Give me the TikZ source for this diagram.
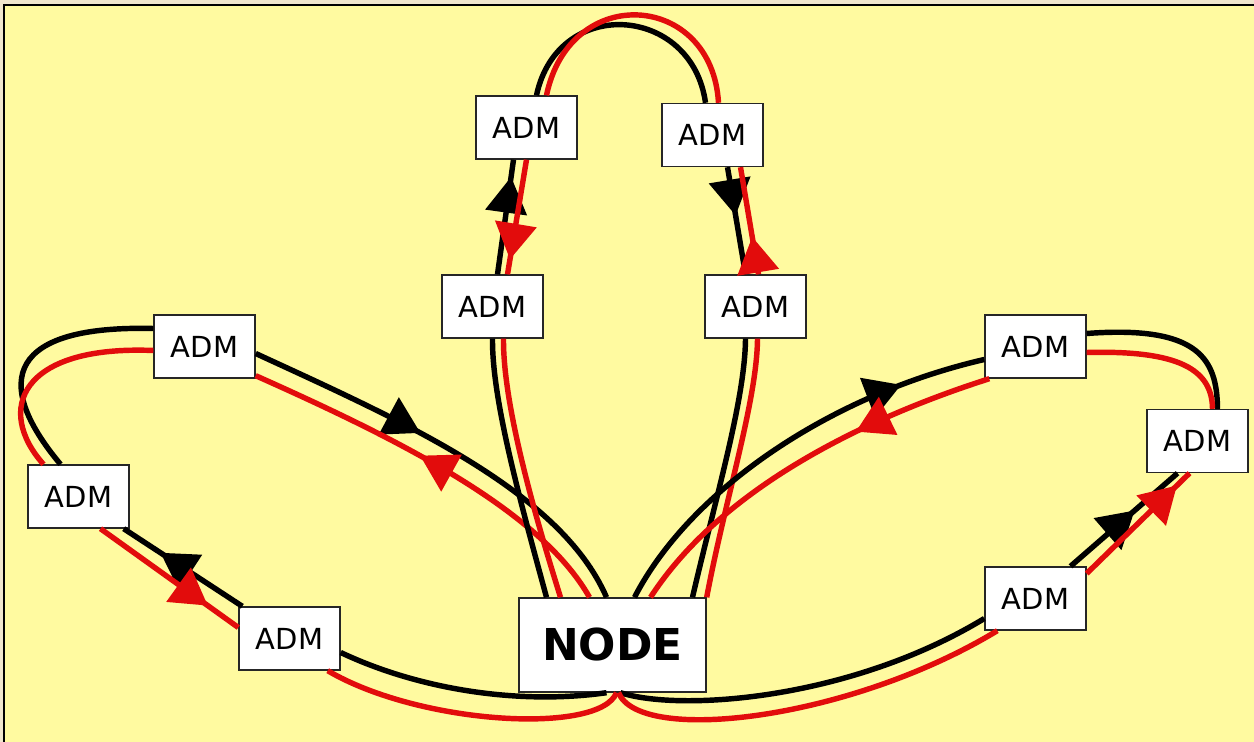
\documentclass[tikz,border=0pt]{standalone}
\usepackage{fontspec}
\setmainfont{DejaVu Sans}
\usepackage{tikz}
\usetikzlibrary{calc, arrows.meta, decorations.markings}

\definecolor{bgyel}{RGB}{255,250,160}
\definecolor{pale}{RGB}{240,230,205}
\definecolor{ringred}{RGB}{226,12,12}

\tikzset{
	adm/.style={draw=black!85, line width=0.8pt, fill=white, inner sep=0pt,
		minimum width=2.02cm, minimum height=1.26cm, font=\fontsize{16.5}{19}\selectfont},
	hub/.style={draw=black!85, line width=0.8pt, fill=white, inner sep=0pt,
		minimum width=3.74cm, minimum height=1.88cm, font=\fontsize{25}{30}\selectfont\bfseries},
	blk/.style={draw=black, line width=3.1pt},
	rd/.style={draw=ringred, line width=3.1pt},
	arr/.style={postaction={decorate}, decoration={markings,
		mark=at position #1 with {\arrow{Triangle[length=0.72cm,width=0.82cm]}}}}
}

\begin{document}
\begin{tikzpicture}[x=0.02cm, y=-0.02cm]
	\useasboundingbox (0,0) rectangle (1254,742);
	% background and frame
	\fill[pale] (0,0) rectangle (1254,742);
	\fill[bgyel] (4,5) rectangle (1254,742);
	\draw[line width=1.6pt] (4,742) -- (4,5) -- (1254,5);
	
	% boxes
	\node[hub] (nd) at (612.5,645) {NODE};
	\node[adm] (a1) at (204.5,346.5) {ADM};   % left ring
	\node[adm] (a2) at (78.5,496.5) {ADM};
	\node[adm] (a3) at (289.5,638.5) {ADM};
	\node[adm] (b1) at (492.5,306.5) {ADM};   % top ring
	\node[adm] (b2) at (526.5,127.5) {ADM};
	\node[adm] (b3) at (712.5,135) {ADM};
	\node[adm] (b4) at (755.5,306.5) {ADM};
	\node[adm] (c1) at (1035.5,346.5) {ADM};  % right ring
	\node[adm] (c2) at (1197.5,441) {ADM};
	\node[adm] (c3) at (1035.5,598.5) {ADM};
	
	% left ring, black
	\draw[blk, arr=0.42] ($(a1.east)+(0,7)$) .. controls (400,420) and (560,490) .. ($(nd.north)+(-6,0)$);
	\draw[blk, arr=0.69] ($(a3.north west)+(4,0)$) -- ($(a2.south east)+(-6,0)$);
	\draw[blk] ($(a2.north)+(-18,0)$) .. controls (-10,380) and (10,325) .. ($(a1.west)+(0,-18)$);
	\draw[blk] ($(nd.south)+(-6,0)$) .. controls (520,705) and (420,690) .. ($(a3.east)+(0,14)$);
	% left ring, red
	\draw[rd, arr=0.55] ($(nd.north)+(-23,0)$) .. controls (540,510) and (400,440) .. ($(a1.south east)+(0,-3)$);
	\draw[rd] ($(a1.west)+(0,4)$) .. controls (20,345) and (-5,410) .. ($(a2.north)+(-35,0)$);
	\draw[rd, arr=0.78] ($(a2.south)+(22,0)$) -- ($(a3.west)+(0,-11)$);
	\draw[rd] ($(a3.south east)+(-13,0)$) .. controls (420,725) and (600,735) .. ($(nd.south)+(4,0)$);
	
	% top ring, black
	\draw[blk] ($(nd.north)+(-66,0)$) .. controls (520,500) and (492,400) .. (b1.south);
	\draw[blk, arr=0.85] ($(b1.north)+(5,0)$) -- ($(b2.south)+(-13,0)$);
	\draw[blk] ($(b2.north)+(10,0)$) .. controls (558,-5) and (692,5) .. ($(b3.north)+(-7,0)$);
	\draw[blk, arr=0.45] ($(b3.south)+(15,0)$) -- ($(b4.north)+(-10,0)$);
	\draw[blk] ($(b4.south)+(-10,0)$) .. controls (745,400) and (715,500) .. ($(nd.north)+(80,0)$);
	% top ring, red
	\draw[rd] (nd.north east) .. controls (725,500) and (757,400) .. ($(b4.south)+(2,0)$);
	\draw[rd, arr=0.35] ($(b4.north)+(3,0)$) -- ($(b3.south)+(28,0)$);
	\draw[rd] ($(b3.north)+(6,0)$) .. controls (712,-8) and (570,-18) .. ($(b2.north)+(20,0)$);
	\draw[rd, arr=0.87] (b2.south) -- ($(b1.north)+(15,0)$);
	\draw[rd] ($(b1.south)+(11,0)$) .. controls (503,400) and (530,500) .. ($(nd.north)+(-52,0)$);
	
	% right ring, black
	\draw[blk, arr=0.8] ($(nd.north)+(22,0)$) .. controls (690,490) and (830,395) .. ($(c1.west)+(0,13)$);
	\draw[blk] ($(c1.east)+(0,-13)$) .. controls (1200,325) and (1217,360) .. ($(c2.north)+(20,0)$);
	\draw[blk, arr=0.6] ($(c3.north)+(35,0)$) -- ($(c2.south)+(-20,0)$);
	\draw[blk] ($(c3.west)+(0,20)$) .. controls (850,700) and (680,712) .. ($(nd.south)+(8,0)$);
	% right ring, red
	\draw[rd, arr=0.35] ($(c1.south west)+(5,0)$) .. controls (860,420) and (720,490) .. ($(nd.north)+(38,0)$);
	\draw[rd] ($(c1.east)+(0,6)$) .. controls (1180,350) and (1212,370) .. ($(c2.north)+(15,0)$);
	\draw[rd, arr=0.88] ($(c3.east)+(0,-25)$) -- ($(c2.south)+(-8,0)$);
	\draw[rd] ($(nd.south)+(6,0)$) .. controls (640,745) and (850,720) .. ($(c3.south west)+(13,0)$);
\end{tikzpicture}
\end{document}
